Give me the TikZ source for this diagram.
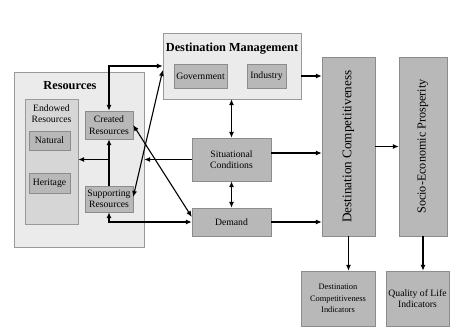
\documentclass[tikz,border=0pt]{standalone}
\usepackage{fontspec}
\setmainfont{Liberation Serif}
\usetikzlibrary{arrows.meta,calc}
\begin{document}
\begin{tikzpicture}[x=1pt,y=-1pt,
 box/.style={draw=black!45, fill=black!28, rectangle, inner sep=0pt, align=center, font=\fontsize{9.7}{11.5}\selectfont},
 outerbox/.style={draw=black!40, fill=black!8, rectangle, inner sep=0pt},
 midbox/.style={draw=black!40, fill=black!16, rectangle, inner sep=0pt},
 lbl/.style={align=center, inner sep=0pt, font=\fontsize{9.7}{11.5}\selectfont},
 ttl/.style={inner sep=0pt, font=\fontsize{12.3}{14}\selectfont\bfseries},
 rot/.style={rotate=90, inner sep=0pt, font=\fontsize{13.2}{15}\selectfont},
 arr/.style={-{Latex[length=6pt,width=5pt]}, line width=1.1pt},
 darr/.style={{Latex[length=6pt,width=5pt]}-{Latex[length=6pt,width=5pt]}, line width=1.1pt},
]
\useasboundingbox (0,0) rectangle (474,336);
% Resources group
\node[outerbox, minimum width=130pt, minimum height=175pt] (res) at (79,159.5) {};
\node[ttl] (restitle) at (70,86) {Resources};
\node[midbox, minimum width=53pt, minimum height=125pt] (endowed) at (51.5,161.5) {};
\node[lbl] (endtitle) at (51.5,113.5) {Endowed\\Resources};
\node[box, minimum width=41pt, minimum height=19pt] (natural) at (49.5,140.5) {Natural};
\node[box, minimum width=41pt, minimum height=20pt] (heritage) at (49.5,183) {Heritage};
\node[box, minimum width=48pt, minimum height=28pt] (created) at (109,125) {Created\\Resources};
\node[box, minimum width=48pt, minimum height=26pt] (supporting) at (109,199) {Supporting\\Resources};
% Destination management
\node[outerbox, minimum width=138pt, minimum height=66pt] (dm) at (232,66) {};
\node[ttl] (dmtitle) at (232,49) {Destination Management};
\node[box, minimum width=53pt, minimum height=24pt] (gov) at (200.5,76) {Government};
\node[box, minimum width=39pt, minimum height=24pt] (ind) at (266.5,76) {Industry};
% middle
\node[box, minimum width=79pt, minimum height=43pt] (sc) at (231.5,159.5) {Situational\\Conditions};
\node[box, minimum width=79pt, minimum height=28pt] (dem) at (231.5,222) {Demand};
% tall boxes
\node[box, minimum width=53pt, minimum height=179pt] (dc) at (348.5,146.5) {};
\node[rot] (dctext) at (dc) {Destination Competitiveness};
\node[box, minimum width=48pt, minimum height=179pt] (sep) at (423,146.5) {};
\node[rot, font=\fontsize{12.2}{14}\selectfont] (septext) at (sep) {Socio-Economic Prosperity};
% indicators
\node[box, minimum width=74pt, minimum height=55pt, font=\fontsize{8.4}{11.5}\selectfont] (dci) at (338,298.5) {Destination\\Competitiveness\\Indicators};
\node[box, minimum width=63pt, minimum height=55pt] (qol) at (417.5,298.5) {Quality of Life\\Indicators};
% connectors
\coordinate (dmout) at (dm.east |- gov);
\draw[arr] (dmout) -- (dmout -| dc.west);
\coordinate (scout) at ([yshift=6.5pt]sc.east);
\draw[arr] (scout) -- (scout -| dc.west);
\draw[arr] (dem.east) -- (dem.east -| dc.west);
\draw[arr] (dc.east) -- (dc.east -| sep.west);
\draw[arr] (dc.south) -- (dc.south |- dci.north);
\draw[arr] (sep.south) -- (sep.south |- qol.north);
\draw[darr] (sc.north) -- (sc.north |- dm.south);
\draw[darr] (sc.south) -- (sc.south |- dem.north);
\draw[arr] (sc.west) -- (sc.west -| res.east);
\draw[arr] (supporting.north) -- (created.south);
\coordinate (jn) at (created.south |- sc.west);
\draw[arr] (jn) -- (jn -| endowed.east);
\draw[darr] (created.east) -- ([yshift=5pt]dem.west);
\draw[darr] (supporting.south) |- (dem.west);
\draw[darr] (created.north) |- (dm.west);
\draw[darr] ([yshift=2pt]supporting.east) -- ([yshift=-4pt]dm.west);
\end{tikzpicture}
\end{document}
